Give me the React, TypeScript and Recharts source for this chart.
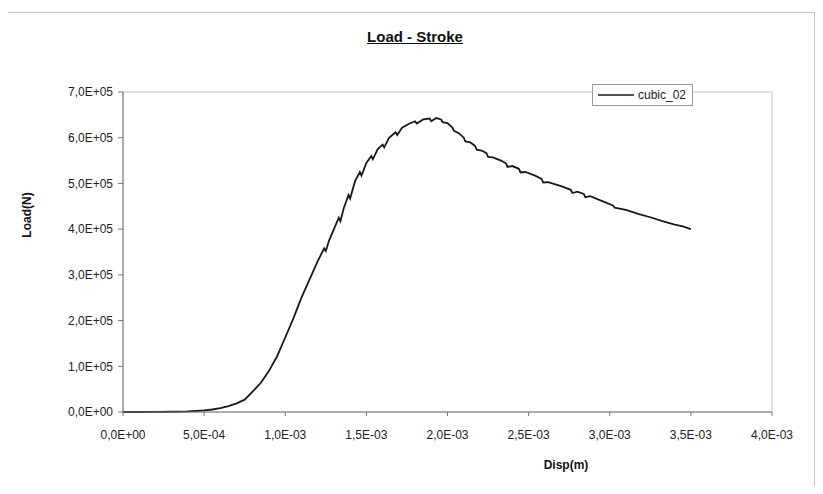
import React from "react";
import {
  Line,
  LineChart,
  ReferenceArea,
  XAxis,
  YAxis,
} from "recharts";

// displacement (m) and load (N)
const DISP = [
  0, 1.0e-4, 2.0e-4, 3.0e-4, 4.0e-4, 5.0e-4, 5.5e-4, 6.0e-4, 6.5e-4, 7.0e-4,
  7.5e-4, 8.0e-4, 8.5e-4, 9.0e-4, 9.5e-4, 1.0e-3, 1.05e-3, 1.1e-3, 1.15e-3, 1.2e-3,
  1.24e-3, 1.25e-3, 1.27e-3, 1.3e-3, 1.33e-3, 1.34e-3, 1.36e-3, 1.39e-3, 1.4e-3, 1.43e-3,
  1.46e-3, 1.47e-3, 1.5e-3, 1.53e-3, 1.54e-3, 1.57e-3, 1.6e-3, 1.61e-3, 1.64e-3, 1.68e-3,
  1.69e-3, 1.72e-3, 1.76e-3, 1.8e-3, 1.81e-3, 1.85e-3, 1.89e-3, 1.9e-3, 1.93e-3, 1.96e-3,
  1.97e-3, 2.0e-3, 2.03e-3, 2.04e-3, 2.07e-3, 2.1e-3, 2.11e-3, 2.14e-3, 2.17e-3, 2.18e-3,
  2.21e-3, 2.24e-3, 2.25e-3, 2.28e-3, 2.33e-3, 2.36e-3, 2.37e-3, 2.4e-3, 2.44e-3, 2.45e-3,
  2.48e-3, 2.54e-3, 2.58e-3, 2.59e-3, 2.62e-3, 2.7e-3, 2.76e-3, 2.77e-3, 2.8e-3, 2.84e-3,
  2.85e-3, 2.88e-3, 2.95e-3, 3.02e-3, 3.03e-3, 3.1e-3, 3.18e-3, 3.25e-3, 3.32e-3, 3.4e-3,
  3.45e-3, 3.5e-3,
];

const LOAD = [
  0, 0, 200, 600, 1500, 3500, 5500, 8500, 13000, 19000,
  27000, 45000, 64000, 90000, 122000, 163000, 205000, 250000, 290000, 330000,
  358000, 352000, 375000, 400000, 425000, 417000, 445000, 475000, 467000, 505000,
  525000, 517000, 545000, 560000, 553000, 575000, 585000, 579000, 600000, 612000,
  606000, 622000, 630000, 636000, 631000, 640000, 642000, 636000, 643000, 640000,
  634000, 632000, 622000, 615000, 610000, 600000, 592000, 590000, 582000, 574000,
  572000, 566000, 558000, 557000, 550000, 544000, 536000, 538000, 532000, 524000,
  525000, 517000, 510000, 502000, 503000, 494000, 486000, 479000, 482000, 477000,
  470000, 472000, 462000, 452000, 447000, 442000, 433000, 426000, 418000, 410000,
  406000, 400000,
];

const X_TICKS = [0, 5e-4, 1e-3, 1.5e-3, 2e-3, 2.5e-3, 3e-3, 3.5e-3, 4e-3];
const Y_TICKS = [0, 1e5, 2e5, 3e5, 4e5, 5e5, 6e5, 7e5];

const data = DISP.map((d, i) => ({ disp: d, load: LOAD[i] }));

// excel style: 5,0E-04
function sci(v: number) {
  if (v === 0) return "0,0E+00";
  const [m, e] = v.toExponential(1).split("e");
  const exp = parseInt(e, 10);
  return m.replace(".", ",") + "E" + (exp < 0 ? "-" : "+") + String(Math.abs(exp)).padStart(2, "0");
}

const FONT = '"Liberation Sans", Arial, sans-serif';
const tick = { fontSize: 12, fill: "#222", fontFamily: FONT };

export default function App() {
  return (
    <div style={{ position: "relative", width: 823, height: 494, margin: -8, background: "#fff", fontFamily: FONT }}>
      <div
        style={{
          position: "absolute",
          left: 6,
          top: 12,
          width: 809,
          height: 475,
          border: "1px solid #c4c4c4",
          boxSizing: "border-box",
        }}
      />
      <div
        style={{
          position: "absolute",
          left: 0,
          width: 830,
          top: 28,
          textAlign: "center",
          fontSize: 15,
          fontWeight: "bold",
          textDecoration: "underline",
          color: "#111",
        }}
      >
        Load - Stroke
      </div>
      <div
        style={{
          position: "absolute",
          left: 27,
          top: 215,
          transform: "translate(-50%, -50%) rotate(-90deg)",
          fontSize: 12,
          fontWeight: "bold",
          color: "#111",
          whiteSpace: "nowrap",
        }}
      >
        Load(N)
      </div>
      <div
        style={{
          position: "absolute",
          left: 566,
          top: 465,
          transform: "translate(-50%, -50%)",
          fontSize: 12,
          fontWeight: "bold",
          color: "#111",
        }}
      >
        Disp(m)
      </div>
      <LineChart
        width={823}
        height={494}
        data={data}
        margin={{ top: 92, right: 51, left: 33, bottom: 52 }}
        style={{ position: "absolute", left: 0, top: 0 }}
      >
        <ReferenceArea x1={0} x2={4e-3} y1={0} y2={7e5} fill="none" stroke="#c4c4c4" ifOverflow="visible" />
        <XAxis
          dataKey="disp"
          type="number"
          domain={[0, 4e-3]}
          ticks={X_TICKS}
          tickFormatter={sci}
          tick={tick}
          tickSize={4}
          tickMargin={14}
          stroke="#777"
          height={30}
          interval={0}
        />
        <YAxis
          type="number"
          domain={[0, 7e5]}
          ticks={Y_TICKS}
          tickFormatter={sci}
          tick={tick}
          tickSize={5}
          tickMargin={5}
          stroke="#777"
          width={90}
          interval={0}
        />
        <Line
          type="linear"
          dataKey="load"
          stroke="#1a1a1a"
          strokeWidth={1.8}
          dot={false}
          isAnimationActive={false}
        />
      </LineChart>
      {/* legend sits over the plot border, like excel draws it */}
      <div
        style={{
          position: "absolute",
          left: 592,
          top: 84,
          display: "flex",
          alignItems: "center",
          border: "1px solid #999",
          background: "#fff",
          padding: "3px 6px 3px 5px",
          fontSize: 12,
          color: "#222",
        }}
      >
        <svg width={36} height={4} style={{ marginRight: 4 }}>
          <line x1={0} y1={2} x2={36} y2={2} stroke="#1a1a1a" strokeWidth={1.5} />
        </svg>
        cubic_02
      </div>
    </div>
  );
}
